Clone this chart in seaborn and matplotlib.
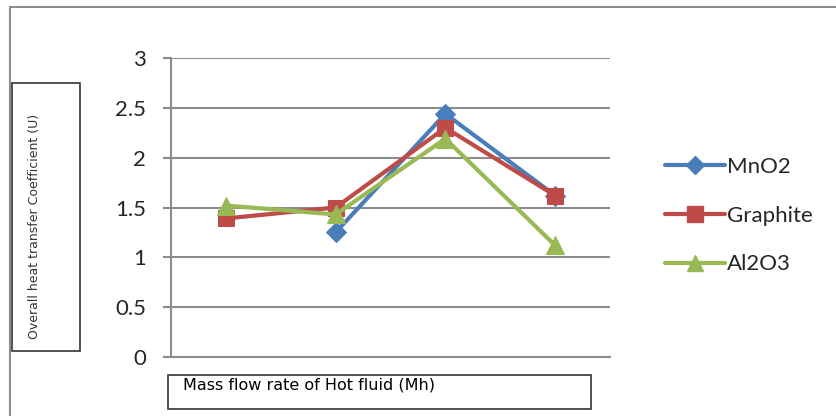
import numpy as np
import pandas as pd
import matplotlib.pyplot as plt
from matplotlib.patches import Rectangle
from matplotlib.lines import Line2D
import seaborn as sns

sns.set_theme(style="white")
plt.rcParams["font.family"] = ["Lato", "DejaVu Sans"]

# data (4 unlabelled categories)
categories = [1, 2, 3, 4]
mno2 = [np.nan, 1.25, 2.44, 1.62]
graphite = [1.39, 1.50, 2.30, 1.62]
al2o3 = [1.52, 1.43, 2.19, 1.12]
series_names = ["MnO2", "Graphite", "Al2O3"]

df = pd.DataFrame({
    "cat": categories * 3,
    "value": mno2 + graphite + al2o3,
    "series": np.repeat(series_names, len(categories)),
}).dropna()

colors = {"MnO2": "#4A7EBB", "Graphite": "#BE4B48", "Al2O3": "#98B954"}
markers = {"MnO2": "D", "Graphite": "s", "Al2O3": "^"}
msizes = {"MnO2": 10, "Graphite": 12, "Al2O3": 13}

fig = plt.figure(figsize=(8.37, 4.16), dpi=100)
ax = fig.add_axes([0.2043, 0.1418, 0.5245, 0.7188])

for name in series_names:
    sub = df[df["series"] == name]
    sns.lineplot(data=sub, x="cat", y="value", ax=ax, color=colors[name],
                 marker=markers[name], markersize=msizes[name],
                 markeredgecolor=colors[name], linewidth=3, label=name)

ax.set_xlim(0.5, 4.5)
ax.set_ylim(0, 3)
ax.set_yticks([0, 0.5, 1, 1.5, 2, 2.5, 3])
ax.set_yticklabels(["0", "0.5", "1", "1.5", "2", "2.5", "3"], fontsize=16)
ax.set_xticks([])
ax.set_xlabel("")
ax.set_ylabel("")
ax.yaxis.grid(True, color="#8C8C8C", linewidth=1.5)
ax.set_axisbelow(True)
for s in ["top", "right"]:
    ax.spines[s].set_visible(False)
for s in ["left", "bottom"]:
    ax.spines[s].set_color("#8C8C8C")
    ax.spines[s].set_linewidth(1.5)
ax.tick_params(axis="y", which="major", left=True, length=6, width=1.5,
               color="#8C8C8C", pad=12)

handles = [Line2D([0], [0], color=colors[n], marker=markers[n], lw=3,
                  markersize=msizes[n] - 1) for n in series_names]
ax.legend(handles, series_names, loc="center left", bbox_to_anchor=(1.08, 0.473),
          frameon=False, fontsize=16, handlelength=2.7, handletextpad=0.1,
          labelspacing=1.3)

# outer chart frame (left and top only, like the reference)
fig.add_artist(Line2D([10 / 837, 10 / 837], [0, 1 - 7 / 416], color="#8C8C8C", lw=1.5))
fig.add_artist(Line2D([10 / 837, 1], [1 - 7 / 416, 1 - 7 / 416], color="#8C8C8C", lw=1.5))

# y label in a box
fig.add_artist(Rectangle((12 / 837, 1 - 351 / 416), 68 / 837, 268 / 416,
                         transform=fig.transFigure, facecolor="white",
                         edgecolor="#333333", lw=1.2))
fig.text(35 / 837, 1 - 226 / 416, "Overall heat transfer Coefficient (U)",
         rotation=90, ha="center", va="center", fontsize=9.0,
         family="Liberation Sans Narrow", color="#333333")

# x label in a box
fig.add_artist(Rectangle((168 / 837, 1 - 409 / 416), 423 / 837, 34 / 416,
                         transform=fig.transFigure, facecolor="white",
                         edgecolor="#333333", lw=1.2))
fig.text(183 / 837, 1 - 385 / 416, "Mass flow rate of Hot fluid (Mh)",
         ha="left", va="center", fontsize=11.5, family="DejaVu Sans", color="black")

fig.savefig("out.png", dpi=100)
